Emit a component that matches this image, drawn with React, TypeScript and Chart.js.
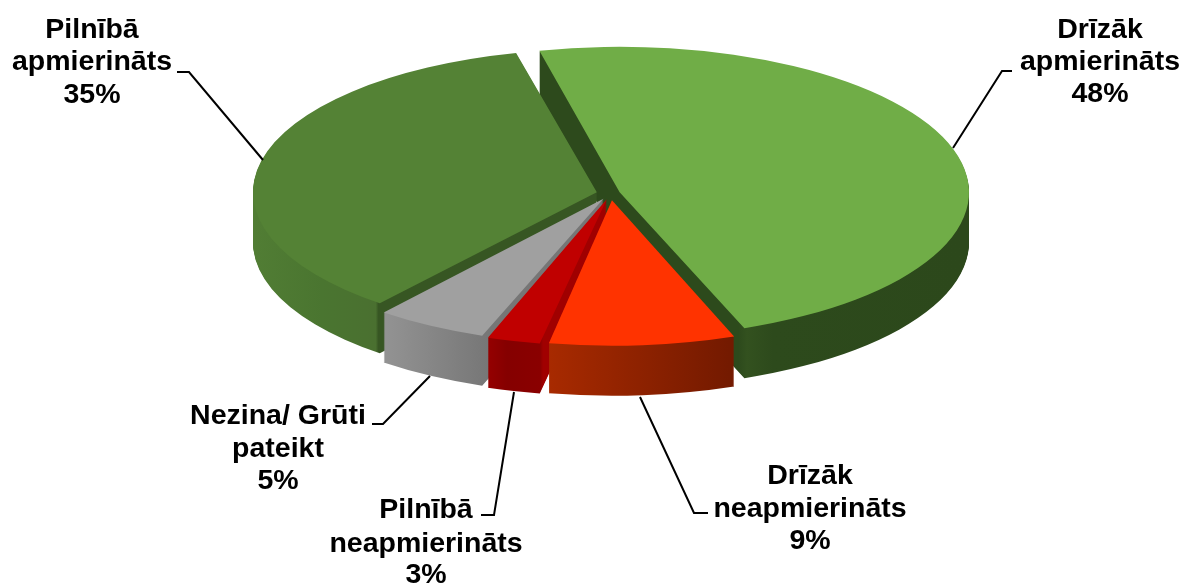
import React, { useEffect, useRef } from "react";
import { Chart, registerables } from "chart.js";

Chart.register(...registerables);

const categories = [
  ["Drīzāk", "apmierināts"],
  ["Drīzāk", "neapmierināts"],
  ["Pilnībā", "neapmierināts"],
  ["Nezina/ Grūti", "pateikt"],
  ["Pilnībā", "apmierināts"],
];
const values = [48, 8.7, 2.6, 5.3, 35.4];
const topColors = ["#70AD47", "#FF3300", "#C00000", "#A0A0A0", "#548235"];
const explode = [30, 52, 45, 45, 44];

// wall shading: [x0, x1, [[stop, colour]...]] in page pixels
const wallShades: [number, number, [number, string][]][] = [
  [540, 970, [[0, "#2D4A1C"], [0.48, "#2D4A1C"], [0.5, "#33511F"], [0.56, "#2D4A1C"], [1, "#2C481B"]]],
  [548, 730, [[0, "#A82A00"], [1, "#741A00"]]],
  [486, 546, [[0, "#940000"], [0.3, "#850000"], [0.85, "#8A0000"], [0.9, "#A00000"], [1, "#A00000"]]],
  [383, 486, [[0, "#929292"], [1, "#767676"]]],
  [252, 420, [[0, "#517D34"], [0.4, "#4A7530"], [0.72, "#4A7030"], [0.735, "#375623"], [1, "#375623"]]],
];

const labelCenters = [
  { x: 1100, y: [30, 62] },
  { x: 810, y: [476, 509] },
  { x: 426, y: [510, 544] },
  { x: 278, y: [416, 449] },
  { x: 92, y: [30, 62] },
];
const pctY = [94, 541, 575, 481, 95];
const leaders = [
  [[1012, 71], [1002, 71], [953, 148]],
  [[708, 513], [694, 513], [640, 397]],
  [[481, 515], [494, 515], [514, 392]],
  [[372, 424], [383, 424], [430, 376]],
  [[177, 72], [189, 72], [263, 160]],
];

const CX = 610.5;
const CY = 193.5;
const RX = 341;
const RY = 142;
const DEPTH = 50;
const DRAW_ORDER = [0, 4, 3, 2, 1];
const FONT = 'bold 28.5px "Liberation Sans", Arial, sans-serif';

const pie3d = {
  id: "pie3d",
  beforeDatasetsDraw(chart: any) {
    const ctx = chart.ctx as CanvasRenderingContext2D;
    const arcs = chart.getDatasetMeta(0).data;
    DRAW_ORDER.forEach((i) => {
      const arc = arcs[i];
      const sx = RX / arc.outerRadius;
      const sy = RY / arc.outerRadius;
      const saved = arc.options;
      const half = (arc.startAngle + arc.endAngle) / 2;
      const off = (saved.offset || 0) / 4;
      const fix = 1 - Math.sin(Math.min(Math.PI, arc.circumference));
      const shift = Math.cos(half) * off * (1 + fix);
      const local = (px: number) => (px - CX) / sx + arc.x - shift;

      const [x0, x1, stops] = wallShades[i];
      const grad = ctx.createLinearGradient(local(x0), 0, local(x1), 0);
      stops.forEach(([s, c]) => grad.addColorStop(s, c));

      const paint = (dy: number, fill: any) => {
        ctx.save();
        ctx.translate(CX, CY + dy);
        ctx.scale(sx, sy);
        ctx.translate(-arc.x, -arc.y);
        arc.options = { ...saved, backgroundColor: fill };
        arc.draw(ctx);
        arc.options = saved;
        ctx.restore();
      };
      for (let k = DEPTH; k >= 1; k--) paint(k, grad);
      paint(0, topColors[i]);
    });
    return false;
  },
  afterDraw(chart: any) {
    const ctx = chart.ctx as CanvasRenderingContext2D;
    ctx.save();
    ctx.strokeStyle = "#000000";
    ctx.lineWidth = 2;
    leaders.forEach((pts) => {
      ctx.beginPath();
      pts.forEach(([x, y], j) => (j ? ctx.lineTo(x, y) : ctx.moveTo(x, y)));
      ctx.stroke();
    });
    ctx.fillStyle = "#000000";
    ctx.font = FONT;
    ctx.textAlign = "center";
    ctx.textBaseline = "middle";
    categories.forEach((lines, i) => {
      const c = labelCenters[i];
      lines.forEach((t, j) => ctx.fillText(t, c.x, c.y[j]));
      ctx.fillText(`${Math.round(values[i])}%`, c.x, pctY[i]);
    });
    ctx.restore();
  },
};

export default function App() {
  const ref = useRef<HTMLCanvasElement>(null);
  useEffect(() => {
    const chart = new Chart(ref.current!, {
      type: "pie",
      data: {
        labels: categories.map((c) => c.join(" ")),
        datasets: [
          {
            data: values,
            backgroundColor: topColors,
            borderWidth: 0,
            offset: explode,
          },
        ],
      },
      options: {
        responsive: false,
        animation: false,
        rotation: -13.5,
        layout: { padding: 0 },
        plugins: { legend: { display: false }, tooltip: { enabled: false } },
      },
      plugins: [pie3d],
    } as any);
    return () => chart.destroy();
  }, []);
  return (
    <canvas
      ref={ref}
      width={1185}
      height={587}
      style={{ position: "absolute", left: 0, top: 0, display: "block" }}
    />
  );
}
